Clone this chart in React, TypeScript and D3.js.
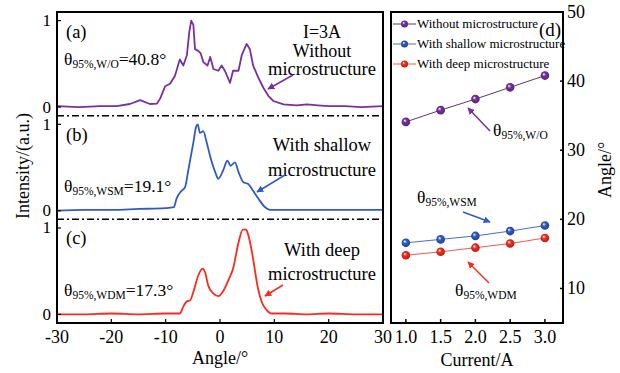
import React from 'react';
import * as d3 from 'd3';

// angular intensity profiles at I=3A (normalised)
const angleWO = [-30, -26, -22, -19, -16.6, -14.7, -12.9, -11.6, -11, -10.1, -9.2, -8.3, -7.4, -6.75, -6.1, -5.65, -5.3, -4.9, -4.6, -4.0, -3.55, -3.07, -2.3, -1.8, -1.2, -0.3, 0.3, 0.9, 1.85, 2.4, 3.4, 4.0, 4.9, 5.5, 6.1, 7.05, 8.0, 8.9, 9.8, 11.7, 14.1, 16, 18, 20, 23, 26, 30];
const intWO = [0.01, 0.0, 0.01, 0.01, 0.035, 0.08, 0.035, 0.04, 0.1, 0.24, 0.27, 0.36, 0.55, 0.48, 0.6, 0.87, 1.0, 0.95, 0.67, 0.65, 0.62, 0.52, 0.48, 0.58, 0.44, 0.42, 0.48, 0.42, 0.28, 0.42, 0.42, 0.6, 0.73, 0.67, 0.48, 0.34, 0.22, 0.13, 0.07, 0.03, 0.02, 0.03, 0.02, 0.01, 0.01, 0.0, 0.01];

const angleWSM = [-30, -25, -20, -15, -10, -8.5, -8.0, -7.1, -6.45, -5.8, -4.9, -4.4, -4.1, -3.7, -3.1, -2.45, -1.85, -0.9, -0.3, 0.6, 1.35, 1.95, 2.75, 3.4, 4.3, 5.2, 6.1, 7.05, 8.3, 9.2, 12, 16, 20, 25, 30];
const intWSM = [0.0, 0.01, 0.01, 0.02, 0.03, 0.04, 0.14, 0.23, 0.27, 0.48, 0.79, 0.97, 1.0, 0.9, 0.92, 0.79, 0.64, 0.45, 0.37, 0.47, 0.58, 0.52, 0.56, 0.45, 0.33, 0.31, 0.23, 0.14, 0.04, 0.01, 0.01, 0.01, 0.01, 0.01, 0.01];

const angleWDM = [-30, -25, -20, -15, -10, -7.4, -6.75, -6.1, -5.5, -4.9, -4.0, -3.2, -2.76, -2.15, -1.2, -0.3, 0.6, 1.5, 2.45, 3.4, 4.2, 4.8, 5.2, 6.1, 6.9, 7.7, 8.6, 9.5, 12, 16, 20, 25, 30];
const intWDM = [0.0, 0.0, 0.01, 0.0, 0.01, 0.01, 0.09, 0.15, 0.16, 0.26, 0.45, 0.53, 0.49, 0.33, 0.24, 0.21, 0.27, 0.39, 0.54, 0.83, 0.98, 0.98, 0.92, 0.64, 0.33, 0.14, 0.05, 0.01, 0.01, 0.0, 0.01, 0.0, 0.0];

// theta95% vs current
const currents = [1.0, 1.5, 2.0, 2.5, 3.0];
const thetaWO = [34.1, 35.8, 37.4, 39.1, 40.8];
const thetaWSM = [16.6, 17.1, 17.6, 18.3, 19.1];
const thetaWDM = [14.8, 15.3, 15.9, 16.5, 17.3];

const angleTicks = [-30, -20, -10, 0, 10, 20, 30];
const currentTicks = [1.0, 1.5, 2.0, 2.5, 3.0];
const thetaTicks = [10, 20, 30, 40, 50];
const legendNames = ['Without microstructure', 'With shallow microstructure', 'With deep microstructure'];

const PURPLE = '#7a2fa0';
const BLUE = '#2f5cc4';
const RED = '#fb2a1c';
const FONT = '"Liberation Serif", "DejaVu Serif", serif';

function App() {
  // left panel
  const L = { x0: 57, x1: 383, y0: 12, y1: 323 };
  const ph = (L.y1 - L.y0) / 3;
  const x = d3.scaleLinear().domain([-30, 30]).range([L.x0, L.x1]);
  const panelY = (i: number) => d3.scaleLinear().domain([-0.1, 1.1]).range([L.y0 + ph * (i + 1), L.y0 + ph * i]);

  const profiles = [
    { a: angleWO, v: intWO, c: PURPLE, curve: d3.curveLinear },
    { a: angleWSM, v: intWSM, c: BLUE, curve: d3.curveMonotoneX },
    { a: angleWDM, v: intWDM, c: RED, curve: d3.curveMonotoneX },
  ];

  // right panel
  const R = { x0: 391, x1: 563, y0: 12, y1: 323 };
  const xc = d3.scaleLinear().domain([0.786, 3.26]).range([R.x0, R.x1]);
  const yt = d3.scaleLinear().domain([5, 50]).range([R.y1, R.y0]);
  const thetaSeries = [
    { v: thetaWO, c: PURPLE, line: '#5a3a66', id: 'gP' },
    { v: thetaWSM, c: BLUE, line: '#4a6ad0', id: 'gB' },
    { v: thetaWDM, c: RED, line: '#f25a4a', id: 'gR' },
  ];
  const tline = d3.line<number>().x((_, i) => xc(currents[i])).y((d) => yt(d));

  const theta = (x0: number, y0: number, sub: string, rest: string) => (
    <text x={x0} y={y0} fontSize={17.5}>
      θ<tspan fontSize={11.5} dy={3}>{sub}</tspan>
      <tspan dy={-3}>{rest}</tspan>
    </text>
  );

  const arrow = (x1: number, y1: number, x2: number, y2: number, c: string, id: string) => (
    <line x1={x1} y1={y1} x2={x2} y2={y2} stroke={c} strokeWidth={1.5} markerEnd={`url(#${id})`} />
  );

  return (
    <svg width={620} height={373} style={{ position: 'fixed', left: 0, top: 0, background: '#fff' }} fontFamily={FONT}>
      <defs>
        {thetaSeries.map((s) => (
          <radialGradient key={s.id} id={s.id} cx="50%" cy="50%" fx="35%" fy="32%" r="60%">
            <stop offset="0%" stopColor="#ffffff" stopOpacity={0.9} />
            <stop offset="35%" stopColor={s.c} />
            <stop offset="100%" stopColor={d3.color(s.c)!.darker(1.2).toString()} />
          </radialGradient>
        ))}
        {[['aP', PURPLE], ['aB', BLUE], ['aR', RED]].map(([id, c]) => (
          <marker key={id} id={id} viewBox="0 0 10 10" refX={9} refY={5} markerWidth={7} markerHeight={7} orient="auto" markerUnits="userSpaceOnUse">
            <path d="M0,0 L10,5 L0,10 z" fill={c} />
          </marker>
        ))}
      </defs>

      {/* ---------- left: intensity profiles ---------- */}
      {profiles.map((p, i) => {
        const y = panelY(i);
        const line = d3.line<number>().x((_, k) => x(p.a[k])).y((d) => y(d)).curve(p.curve);
        return (
          <g key={i}>
            <path d={line(p.v) ?? ''} fill="none" stroke={p.c} strokeWidth={1.8} strokeLinejoin="round" />
            {[0, 1].map((t) => (
              <g key={t}>
                <line x1={L.x0} x2={L.x0 + 4} y1={y(t)} y2={y(t)} stroke="#000" strokeWidth={1.2} />
                <text x={51} y={y(t) + 5.5} fontSize={17} textAnchor="end">{t}</text>
              </g>
            ))}
          </g>
        );
      })}
      {[1, 2].map((i) => (
        <line key={i} x1={L.x0} x2={L.x1} y1={L.y0 + ph * i} y2={L.y0 + ph * i} stroke="#000" strokeWidth={1.5} strokeDasharray="7,3,2,3" />
      ))}
      <rect x={L.x0} y={L.y0} width={L.x1 - L.x0} height={L.y1 - L.y0} fill="none" stroke="#000" strokeWidth={2} />
      {angleTicks.map((t) => (
        <g key={t}>
          <line x1={x(t)} x2={x(t)} y1={L.y1} y2={L.y1 - 4} stroke="#000" strokeWidth={1.2} />
          <text x={x(t)} y={343} fontSize={18} textAnchor="middle">{t}</text>
        </g>
      ))}
      <text x={220} y={364} fontSize={18} textAnchor="middle">Angle/°</text>
      <text transform="translate(29,166) rotate(-90)" fontSize={18} textAnchor="middle">Intensity/(a.u.)</text>

      <text x={66} y={38} fontSize={18.5}>(a)</text>
      <text x={66} y={141} fontSize={18.5}>(b)</text>
      <text x={66} y={244} fontSize={18.5}>(c)</text>
      {theta(64, 65, '95%,W/O', '=40.8°')}
      {theta(64, 192, '95%,WSM', '=19.1°')}
      {theta(64, 296, '95%,WDM', '=17.3°')}

      <text x={322} y={38} fontSize={18} textAnchor="middle">I=3A</text>
      <text x={322} y={57} fontSize={18} textAnchor="middle">Without</text>
      <text x={322} y={75} fontSize={18.5} textAnchor="middle">microstructure</text>
      {arrow(293, 75, 268, 89, PURPLE, 'aP')}

      <text x={322} y={151} fontSize={18.5} textAnchor="middle">With shallow</text>
      <text x={322} y={176} fontSize={18.5} textAnchor="middle">microstructure</text>
      {arrow(285, 175, 257, 192, BLUE, 'aB')}

      <text x={322} y={256} fontSize={18.5} textAnchor="middle">With deep</text>
      <text x={322} y={280} fontSize={18.5} textAnchor="middle">microstructure</text>
      {arrow(283, 285, 265, 296, RED, 'aR')}

      {/* ---------- right: theta95% vs current ---------- */}
      {thetaSeries.map((s, i) => (
        <g key={i}>
          <path d={tline(s.v) ?? ''} fill="none" stroke={s.line} strokeWidth={1} />
          {s.v.map((d, k) => (
            <circle key={k} cx={xc(currents[k])} cy={yt(d)} r={4.3} fill={`url(#${s.id})`} />
          ))}
        </g>
      ))}
      <rect x={R.x0} y={R.y0} width={R.x1 - R.x0} height={R.y1 - R.y0} fill="none" stroke="#000" strokeWidth={2} />
      {thetaTicks.map((t) => (
        <g key={t}>
          <line x1={R.x1} x2={R.x1 - 3} y1={yt(t)} y2={yt(t)} stroke="#000" strokeWidth={1.5} />
          <text x={567} y={yt(t) + 6} fontSize={18}>{t}</text>
        </g>
      ))}
      {currentTicks.map((t) => (
        <g key={t}>
          <line x1={xc(t)} x2={xc(t)} y1={R.y1} y2={R.y1 - 4} stroke="#000" strokeWidth={1.5} />
          <text x={xc(t)} y={343} fontSize={18} textAnchor="middle">{t.toFixed(1)}</text>
        </g>
      ))}
      <text x={477} y={366} fontSize={18} textAnchor="middle">Current/A</text>
      <text transform="translate(611,170) rotate(-90)" fontSize={18} textAnchor="middle">Angle/°</text>

      {legendNames.map((n, i) => (
        <g key={n}>
          <line x1={393} x2={416} y1={24 + i * 20} y2={24 + i * 20} stroke={thetaSeries[i].line} strokeWidth={1} />
          <circle cx={404.5} cy={24 + i * 20} r={3.5} fill={`url(#${thetaSeries[i].id})`} />
          <text x={417} y={28 + i * 20} fontSize={13}>{n}</text>
        </g>
      ))}
      <text x={539} y={36} fontSize={19}>(d)</text>

      {theta(493, 136, '95%,W/O', '')}
      {arrow(490, 131, 468, 108, PURPLE, 'aP')}
      {theta(417, 203, '95%,WSM', '')}
      {arrow(463, 212, 490, 222, BLUE, 'aB')}
      {theta(455, 296, '95%,WDM', '')}
      {arrow(489, 283, 468, 262, RED, 'aR')}
    </svg>
  );
}

export default App;
